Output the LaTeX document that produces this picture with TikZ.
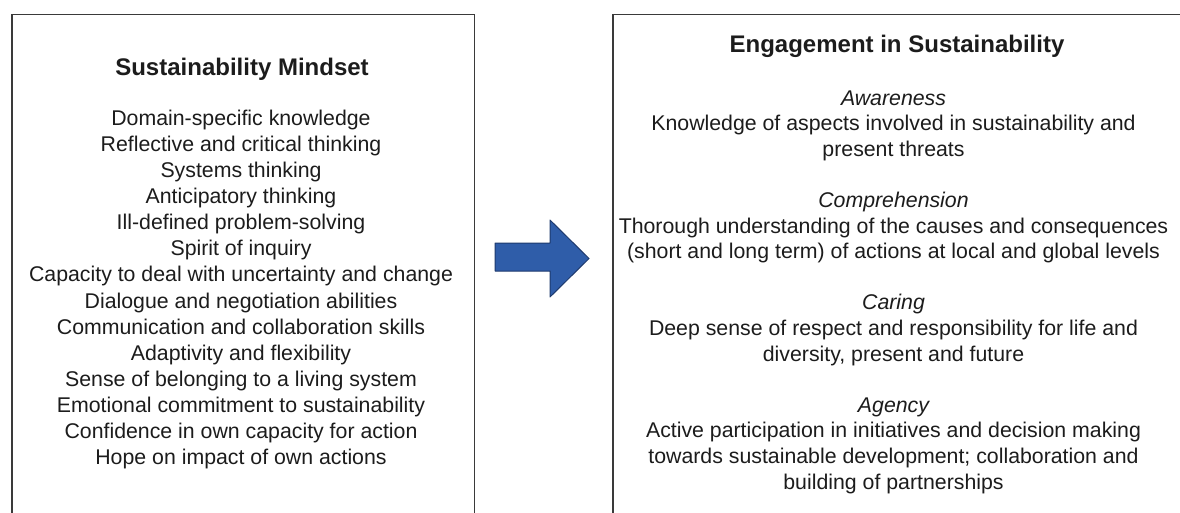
\documentclass[tikz,border=0pt]{standalone}
\usepackage{fontspec}
\setmainfont{Liberation Sans}
\definecolor{arrowblue}{HTML}{2F5DA9}
\definecolor{arrowedge}{HTML}{1E3A6E}
\definecolor{boxgray}{HTML}{3A3A3A}
\definecolor{txt}{HTML}{1C1C1C}
\tikzset{
  panel/.style={draw=boxgray, line width=1.6pt, inner sep=0pt, anchor=north west},
  body/.style={font=\fontsize{21.3}{25.6}\selectfont, anchor=base, inner sep=0pt, text=txt},
  sub/.style={font=\fontsize{21.3}{25.6}\selectfont\itshape, anchor=base, inner sep=0pt, text=txt},
  head/.style={font=\fontsize{24}{28}\selectfont\bfseries, anchor=base, inner sep=0pt, text=txt},
  bigarrow/.style={fill=arrowblue, draw=arrowedge, line width=1pt, line join=round}
}
\begin{document}
\begin{tikzpicture}[x=1pt, y=-1pt]
\useasboundingbox (0,0) rectangle (1180,512);
\clip (0,0) rectangle (1180,512);
\fill[white] (0,0) rectangle (1180,512);

% panels (their bottoms run past the picture's edge)
\node[panel, minimum width=462.5pt, minimum height=520pt] (leftbox) at (11,13.5) {};
\node[panel, minimum width=580pt, minimum height=520pt] (rightbox) at (612,13.5) {};

% left panel
\node[head] (lt) at (242,75) {Sustainability Mindset};
\foreach \t [count=\i from 0] in {
  Domain-specific knowledge,
  Reflective and critical thinking,
  Systems thinking,
  Anticipatory thinking,
  Ill-defined problem-solving,
  Spirit of inquiry,
  Capacity to deal with uncertainty and change,
  Dialogue and negotiation abilities,
  Communication and collaboration skills,
  Adaptivity and flexibility,
  Sense of belonging to a living system,
  Emotional commitment to sustainability,
  Confidence in own capacity for action,
  Hope on impact of own actions}
  \node[body] (l\i) at (241,125+26.15*\i) {\t};

% right panel
\node[head] (rt) at (897,52) {Engagement in Sustainability};
\node[sub]  (r0)  at (893.5,105+25.6*0)  {Awareness};
\node[body] (r1)  at (893.5,105+25.6*1)  {Knowledge of aspects involved in sustainability and};
\node[body] (r2)  at (893.5,105+25.6*2)  {present threats};
\node[sub]  (r4)  at (893.5,105+25.6*4)  {Comprehension};
\node[body] (r5)  at (893.5,105+25.6*5)  {Thorough understanding of the causes and consequences};
\node[body] (r6)  at (893.5,105+25.6*6)  {(short and long term) of actions at local and global levels};
\node[sub]  (r8)  at (893.5,105+25.6*8)  {Caring};
\node[body] (r9)  at (893.5,105+25.6*9)  {Deep sense of respect and responsibility for life and};
\node[body] (r10) at (893.5,105+25.6*10) {diversity, present and future};
\node[sub]  (r12) at (893.5,105+25.6*12) {Agency};
\node[body] (r13) at (893.5,105+25.6*13) {Active participation in initiatives and decision making};
\node[body] (r14) at (893.5,105+25.6*14) {towards sustainable development; collaboration and};
\node[body] (r15) at (893.5,105+25.6*15) {building of partnerships};

% block arrow between the panels
\draw[bigarrow] (495,243) -- (550,243) -- (550,220) -- (589,258.5)
  -- (550,297) -- (550,271) -- (495,271) -- cycle;
\end{tikzpicture}
\end{document}
